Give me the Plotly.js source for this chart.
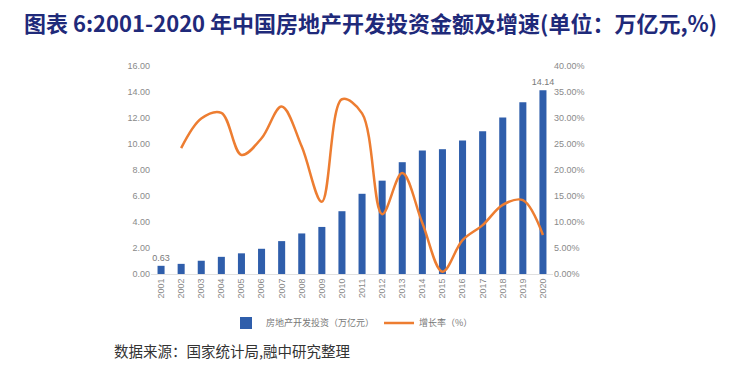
<!DOCTYPE html>
<html><head><meta charset="utf-8">
<script src="https://cdn.plot.ly/plotly-3.0.1.min.js"></script>
<style>body{margin:0;background:#fff}#c{width:744px;height:377px}</style>
</head><body><div id="c"></div>
<script>
const years = ["2001","2002","2003","2004","2005","2006","2007","2008","2009","2010","2011","2012","2013","2014","2015","2016","2017","2018","2019","2020"];
const investment = [0.63,0.78,1.02,1.32,1.59,1.94,2.53,3.12,3.62,4.83,6.17,7.18,8.60,9.50,9.60,10.26,10.98,12.03,13.22,14.14];
const growthYears = years.slice(1);
const growth = [24.2,29.9,31.0,22.9,26.1,32.2,24.5,13.9,33.6,30.9,11.5,19.4,9.8,0.45,6.5,9.4,13.3,14.2,7.5];
const barLabels = ["0.63","","","","","","","","","","","","","","","","","","","14.14"];
const leftTicks = [0,2,4,6,8,10,12,14,16];
const rightTicks = [0,5,10,15,20,25,30,35,40];

const tickFont = {family:"Liberation Sans, Arial, sans-serif", size:9, color:"#8a8a8a"};
Plotly.newPlot("c", [
  {type:"bar", x:years, y:investment, name:"房地产开发投资（万亿元）",
   marker:{color:"#2f5eab"}, width:0.35,
   text:barLabels, textposition:"outside", cliponaxis:false, constraintext:"none",
   textfont:{family:"Liberation Sans, Arial, sans-serif", size:9, color:"#7a7a7a"}},
  {type:"scatter", mode:"lines", x:growthYears, y:growth, yaxis:"y2", name:"增长率（%）",
   line:{color:"#ed7d31", width:2.5, shape:"spline", smoothing:1}}
], {
  width:744, height:377,
  margin:{l:151, r:191, t:66, b:103},
  paper_bgcolor:"#fff", plot_bgcolor:"#fff",
  showlegend:true,
  legend:{orientation:"h", x:0.5, xanchor:"center", y:-0.235, yanchor:"middle",
          font:{family:"Noto Sans CJK SC, sans-serif", size:9, color:"#777"}, traceorder:"normal"},
  xaxis:{type:"category", tickangle:-90, tickfont:tickFont, showgrid:false, zeroline:false,
         showline:true, linecolor:"#e0e0e0", ticks:"", range:[-0.5,19.5]},
  yaxis:{range:[0,16], tickvals:leftTicks, ticktext:leftTicks.map(v=>v.toFixed(2)), tickfont:tickFont,
         showgrid:false, zeroline:false, ticks:"", ticklen:0},
  yaxis2:{range:[0,40], overlaying:"y", side:"right", tickvals:rightTicks,
          ticktext:rightTicks.map(v=>v.toFixed(2)+"%"), tickfont:tickFont, showgrid:false, zeroline:false},
  annotations:[
    {text:"<b>图表 6:2001-2020 年中国房地产开发投资金额及增速(单位：万亿元,%)</b>", xref:"paper", yref:"paper",
     x:(370-151)/402, y:1+(66-22)/208, xanchor:"center", yanchor:"middle", showarrow:false,
     font:{family:"Noto Sans CJK SC, sans-serif", size:22, color:"#1f2a7a"}},
    {text:"数据来源：国家统计局,融中研究整理", xref:"paper", yref:"paper",
     x:(112-151)/402, xanchor:"left", y:-(350-274)/208, yanchor:"middle", showarrow:false,
     font:{family:"Noto Sans CJK SC, sans-serif", size:14.5, color:"#333"}}
  ]
}, {displayModeBar:false, staticPlot:true});
</script></body></html>
